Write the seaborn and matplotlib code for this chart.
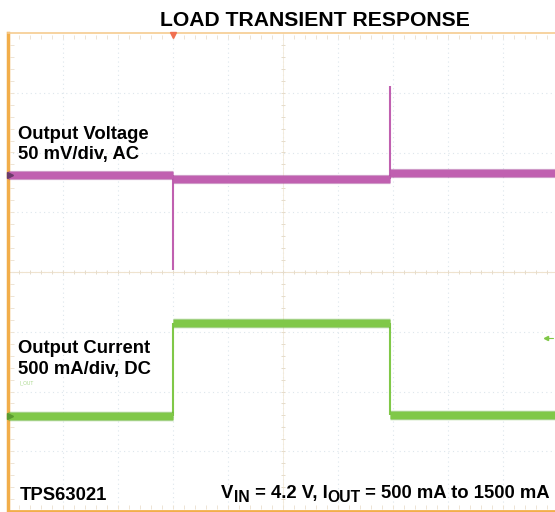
import numpy as np
import pandas as pd
import matplotlib
matplotlib.use("Agg")
import matplotlib.pyplot as plt
import seaborn as sns

# ---- data (scope divisions: time 0..10 div, amplitude 0..8 div) ----
step_time = [3.0, 6.95]                       # load steps (div)
seg_start = [0.0, 3.0, 6.95]
seg_end = [3.0, 6.95, 10.0]
v_level = [5.62, 5.56, 5.66]                  # output voltage plateaus (div)
spike_to = [4.03, 7.11]                       # transient peaks (div)
i_level = [1.59, 3.14, 1.61]                  # output current plateaus (div)

title = "LOAD TRANSIENT RESPONSE"
ch1_label = ["Output Voltage", "50 mV/div, AC"]
ch2_label = ["Output Current", "500 mA/div, DC"]
part = "TPS63021"
# condition text pieces: (text, is_subscript)
cond_parts = [("V", False), ("IN", True), (" = 4.2 V, I", False), ("OUT", True),
              (" = 500 mA to 1500 mA", False)]

sns.set_theme(style="white")
plt.rcParams["font.family"] = ["Liberation Sans", "DejaVu Sans"]

W, H = 555, 512
fig = plt.figure(figsize=(W / 100, H / 100), dpi=100)
ax = fig.add_axes([8 / W, 1 / H, 550 / W, 478 / H])
ax.set_xlim(0, 10)
ax.set_ylim(0, 8)

MAG = "#c060b0"
GRN = "#80c848"
ORG = "#f2ae4a"
GRID = "#dde6ec"

# grid
for x in range(1, 10):
    ax.axvline(x, color=GRID, lw=0.8, ls=(0, (1, 3)), zorder=0)
for y in range(1, 8):
    ax.axhline(y, color=GRID, lw=0.8, ls=(0, (1, 3)), zorder=0)
ax.axhline(4, color="#efe3cf", lw=0.8, zorder=0)
ax.axvline(5, color="#f3ead9", lw=0.6, zorder=0)
minor_x = np.arange(0.2, 10, 0.2)
minor_y = np.arange(0.2, 8, 0.2)
ax.scatter(minor_x, np.full_like(minor_x, 4), marker="|", s=12, color="#e6dccb", lw=0.7, zorder=0)
ax.scatter(np.full_like(minor_y, 5), minor_y, marker="_", s=12, color="#e6dccb", lw=0.7, zorder=0)
ax.scatter(minor_x, np.full_like(minor_x, 7.94), marker="|", s=10, color="#eee4d4", lw=0.7, zorder=0)
ax.scatter(minor_x, np.full_like(minor_x, 0.06), marker="|", s=10, color="#eee4d4", lw=0.7, zorder=0)
ax.scatter(np.full_like(minor_y, 0.07), minor_y, marker="_", s=10, color="#eee4d4", lw=0.7, zorder=0)

# plateau segments as long-form table
n = len(seg_start)
segs = pd.DataFrame({
    "seg": list(range(n)) * 2,
    "t": seg_start + seg_end,
    "v": v_level * 2,
    "i": i_level * 2,
})

# thin step edges
ax.vlines(step_time, [v_level[0], v_level[1]], spike_to, color=MAG, lw=1.5, zorder=3)
ax.vlines(step_time, [i_level[0], i_level[1]], [i_level[1], i_level[2]], color=GRN, lw=1.5, zorder=3)

kw = dict(units="seg", estimator=None, sort=True, zorder=4, legend=False, solid_capstyle="butt")
sns.lineplot(data=segs, x="t", y="v", ax=ax, color="#a94a9c", lw=6.6, alpha=0.55, **kw)
sns.lineplot(data=segs, x="t", y="v", ax=ax, color=MAG, lw=5.0, **kw)
sns.lineplot(data=segs, x="t", y="i", ax=ax, color="#62b030", lw=6.8, alpha=0.55, **kw)
sns.lineplot(data=segs, x="t", y="i", ax=ax, color=GRN, lw=5.2, **kw)

# channel / trigger markers
ax.plot([0.03], [v_level[0]], marker=">", ms=5, color="#6a3a6a", clip_on=False, zorder=5)
ax.plot([0.03], [i_level[0]], marker=">", ms=5, color="#5a9a30", clip_on=False, zorder=5)
ax.plot([3.0], [7.97], marker="v", ms=5, color="#f07050", clip_on=False, zorder=5)
ax.plot([9.78], [2.9], marker="<", ms=3, color=GRN, zorder=5)
ax.plot([9.78, 9.9], [2.9, 2.9], color=GRN, lw=0.8, zorder=5)

ax.set_xticks([])
ax.set_yticks([])
ax.set_xlabel("")
ax.set_ylabel("")
ax.spines["right"].set_visible(False)
ax.spines["left"].set_color(ORG)
ax.spines["left"].set_linewidth(2.5)
ax.spines["top"].set_color("#f6cc90")
ax.spines["top"].set_linewidth(1.2)
ax.spines["bottom"].set_color(ORG)
ax.spines["bottom"].set_linewidth(2.0)

def ftext(x, y, s, **kw):
    return fig.text(x / W, 1 - y / H, s, va="baseline", fontweight="bold", color="black", **kw)

FS = 13.3
ftext(315, 26, title, fontsize=15.2, ha="center")
ftext(18, 139, ch1_label[0], fontsize=FS)
ftext(18, 159, ch1_label[1], fontsize=FS)
ftext(18, 353, ch2_label[0], fontsize=FS)
ftext(18, 374, ch2_label[1], fontsize=FS)
fig.text(20 / W, 1 - 384 / H, "I_OUT", fontsize=3.5, color="#a8d88a")
ftext(20, 500, part, fontsize=FS)

# condition text composed right-to-left with subscripts
renderer = fig.canvas.get_renderer()
xr = 550.0
base = 498.0
for s, sub in reversed(cond_parts):
    t = ftext(xr, base + (4 if sub else 0), s, fontsize=FS * (0.85 if sub else 1.0), ha="right")
    bb = t.get_window_extent(renderer)
    xr -= bb.width

fig.savefig("out.png", dpi=100)
